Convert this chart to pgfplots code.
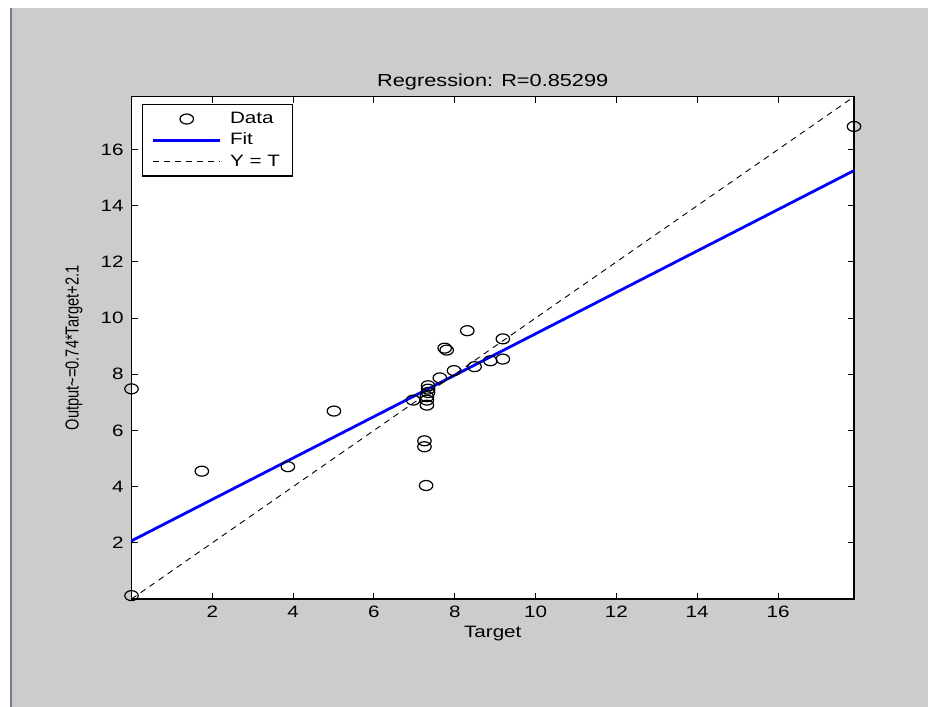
\documentclass[border=0pt]{standalone}
\usepackage{fontspec}
\setmainfont{Liberation Sans}[FakeStretch=1.25]
\newfontfamily\ylabfont{Liberation Sans}[FakeStretch=0.78]
\usepackage{pgfplots}
\pgfplotsset{compat=1.18}
\definecolor{figgray}{HTML}{CCCCCC}
\definecolor{edgeline}{HTML}{6F7C8E}
\pgfplotsset{
    mline legend/.style={legend image code/.code={\draw[##1] (0pt,0pt) -- (33.5pt,0pt);}},
    mmark legend/.style={legend image code/.code={\draw[mark repeat=2,mark phase=2,##1] plot coordinates {(0pt,0pt) (16.75pt,0pt) (33.5pt,0pt)};}},
}

\begin{document}
\begin{tikzpicture}
% figure window background
\fill[white] (0,0) rectangle (464pt,353.5pt);
\fill[figgray] (5pt,0) rectangle (464pt,349.5pt);
\fill[edgeline] (5pt,0) rectangle (6pt,349.5pt);
\begin{axis}[
    at={(65.75pt,54pt)}, anchor=south west,
    scale only axis, width=361.25pt, height=251.15pt,
    xmin=0, xmax=17.88, ymin=0, ymax=17.88,
    xtick={2,4,...,16}, ytick={2,4,...,16},
    tick align=inside, major tick length=3pt,
    every tick/.style={black, line width=0.5pt},
    axis line style={black, line width=0.6pt},
    axis background/.style={fill=white},
    clip=false,
    /pgf/number format/assume math mode=true,
    tick label style={font=\fontsize{8.25}{9}\selectfont},
    xticklabel style={anchor=base, yshift=-9.5pt, inner sep=0pt},
    yticklabel style={anchor=east, xshift=-3.75pt, inner sep=0pt},
    every axis title shift=0pt,
    title={Regression: R=0.85299},
    title style={at={(axis description cs:0.5,1.02)}, anchor=base, font=\fontsize{8.7}{10}\selectfont},
    xlabel={Target},
    xlabel style={at={(axis description cs:0.5,-0.0757)}, anchor=base, font=\fontsize{8.25}{9}\selectfont},
    ylabel={Output\textasciitilde=0.74*Target+2.1},
    ylabel style={at={(axis description cs:-0.0796,0.5)}, anchor=center, font=\ylabfont\fontsize{9.4}{10}\selectfont},
    legend style={at={(axis description cs:0.0149,0.985)}, anchor=north west,
        draw=black, fill=white, line width=0.6pt, inner xsep=4.5pt, inner ysep=1.8pt,
        nodes={inner sep=1.7pt}, cells={anchor=west}, column sep=2.5pt,
        font=\fontsize{8.25}{9}\selectfont},
]
% Data
\addplot[only marks, mark=o, mark size=2.5pt,
    mark options={xscale=1.35, line width=0.6pt, black}, mmark legend]
coordinates {
(0.00,0.12) (0.00,7.48) (1.74,4.55) (3.87,4.71) (5.01,6.69)
(6.97,7.08) (7.29,4.04) (7.25,5.42) (7.25,5.63) (7.31,6.90)
(7.31,7.08) (7.31,7.20) (7.34,7.35) (7.34,7.47) (7.34,7.59)
(7.63,7.87) (7.75,8.93) (7.80,8.86) (7.98,8.13) (8.31,9.55)
(8.49,8.27) (8.88,8.48) (9.19,9.26) (9.19,8.54) (17.88,16.82)
};
\addlegendentry{Data}
% Fit
\addplot[blue, line width=1.4pt, mline legend]
coordinates {(0,2.07) (17.88,15.25)};
\addlegendentry{Fit}
% Y = T
\addplot[black, line width=0.45pt, dash pattern=on 3pt off 2.5pt, mline legend]
coordinates {(0,0) (17.88,17.88)};
\addlegendentry{Y = T}
\end{axis}
\end{tikzpicture}
\end{document}
